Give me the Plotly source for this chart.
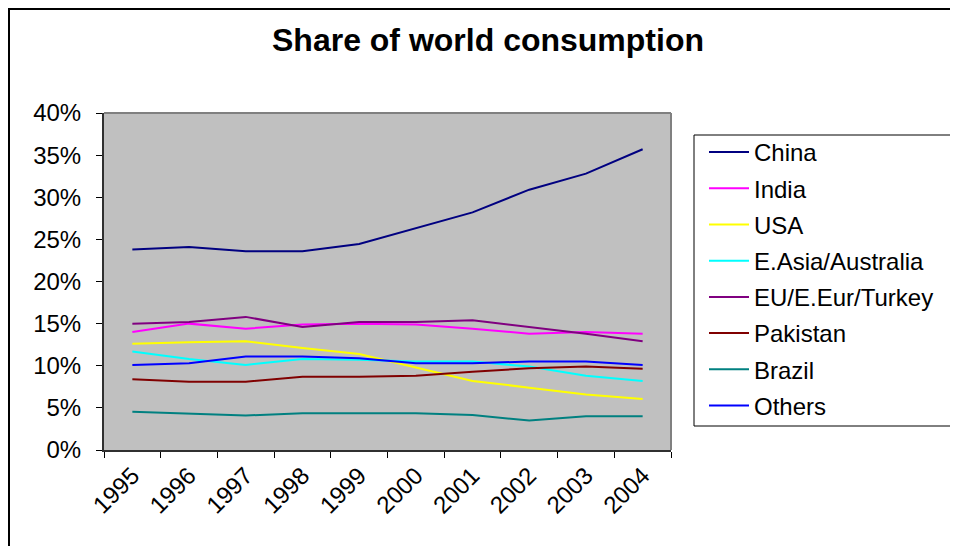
import plotly.graph_objects as go

years = ["1995", "1996", "1997", "1998", "1999", "2000", "2001", "2002", "2003", "2004"]

china = [23.8, 24.1, 23.6, 23.6, 24.45, 26.3, 28.2, 30.9, 32.8, 35.7]
india = [14.0, 15.0, 14.4, 14.9, 15.0, 14.9, 14.4, 13.8, 14.0, 13.8]
usa = [12.6, 12.8, 12.9, 12.1, 11.4, 9.8, 8.2, 7.4, 6.6, 6.05]
east_asia = [11.7, 10.8, 10.1, 10.8, 10.7, 10.5, 10.5, 9.9, 8.8, 8.2]
eu = [15.0, 15.2, 15.8, 14.6, 15.2, 15.2, 15.4, 14.6, 13.8, 12.9]
pakistan = [8.4, 8.1, 8.1, 8.7, 8.7, 8.8, 9.3, 9.7, 9.9, 9.65]
brazil = [4.55, 4.35, 4.1, 4.35, 4.35, 4.35, 4.15, 3.5, 4.0, 4.0]
others = [10.1, 10.3, 11.1, 11.1, 10.9, 10.3, 10.3, 10.5, 10.5, 10.1]

series_names = ["China", "India", "USA", "E.Asia/Australia", "EU/E.Eur/Turkey",
                "Pakistan", "Brazil", "Others"]
series_values = [china, india, usa, east_asia, eu, pakistan, brazil, others]
series_colors = ["#000080", "#FF00FF", "#FFFF00", "#00FFFF", "#800080",
                 "#800000", "#008080", "#0000FF"]

y_ticks = [0, 5, 10, 15, 20, 25, 30, 35, 40]
y_tick_labels = [f"{v}%" for v in y_ticks]

# page offset (browser body margin)
OX, OY = 8, 8
W, H = 958, 546
PL, PR, PT, PB = 104 - OX, 671 - OX, 113 - OY, 450 - OY  # plot area in figure pixels


def px(xpage):
    return (xpage - OX - PL) / (PR - PL)


def py(ypage):
    return (PB - (ypage - OY)) / (PB - PT)


FONT = "Liberation Sans, Arial, sans-serif"
FS = 24

fig = go.Figure()
for name, vals, col in zip(series_names, series_values, series_colors):
    fig.add_trace(go.Scatter(
        x=years, y=vals, name=name, mode="lines",
        line=dict(color=col, width=2),
        legendgroup=name,
    ))

fig.update_layout(
    width=W, height=H,
    margin=dict(l=PL, r=W - PR, t=PT, b=H - PB, pad=0),
    paper_bgcolor="white",
    plot_bgcolor="#C0C0C0",
    font=dict(family=FONT, size=FS, color="black"),
    title=dict(text="<b>Share of world consumption</b>", x=(488 - OX) / W, xanchor="center",
               y=1 - (40 - OY) / H, yanchor="middle", yref="container", xref="container",
               font=dict(family=FONT, size=32, color="black")),
    showlegend=True,
    legend=dict(x=px(704), xanchor="left", y=py(130), yanchor="top",
                bgcolor="rgba(0,0,0,0)", borderwidth=0,
                font=dict(family=FONT, size=FS, color="black"),
                tracegroupgap=2, itemwidth=40),
    xaxis=dict(type="category", range=[-0.5, len(years) - 0.5],
               showgrid=False, zeroline=False,
               showline=True, linecolor="#303030", linewidth=2,
               ticks="outside", ticklen=6, tickcolor="black", tickwidth=1,
               tickson="boundaries", tickangle=-45,
               tickfont=dict(family=FONT, size=FS, color="black")),
    yaxis=dict(range=[0, 40], tickmode="array", tickvals=y_ticks, ticktext=y_tick_labels,
               showgrid=False, zeroline=False,
               showline=True, linecolor="#303030", linewidth=2,
               ticks="outside", ticklen=6, tickcolor="black", tickwidth=1,
               ticklabelstandoff=10,
               tickfont=dict(family=FONT, size=FS, color="black")),
    shapes=[
        # plot area top/right border
        dict(type="line", xref="paper", yref="paper", x0=0, x1=1, y0=1, y1=1,
             line=dict(color="#808080", width=2)),
        dict(type="line", xref="paper", yref="paper", x0=1, x1=1, y0=0, y1=1,
             line=dict(color="#808080", width=2)),
        # legend box
        dict(type="rect", xref="paper", yref="paper",
             x0=px(694), x1=px(985), y0=py(426), y1=py(135),
             line=dict(color="black", width=1)),
        # outer chart frame
        dict(type="line", xref="paper", yref="paper",
             x0=px(8), x1=px(985), y0=py(9), y1=py(9),
             line=dict(color="black", width=2)),
        dict(type="line", xref="paper", yref="paper",
             x0=px(9), x1=px(9), y0=py(9), y1=py(570),
             line=dict(color="black", width=2)),
    ],
)

fig.write_html("out.html")
